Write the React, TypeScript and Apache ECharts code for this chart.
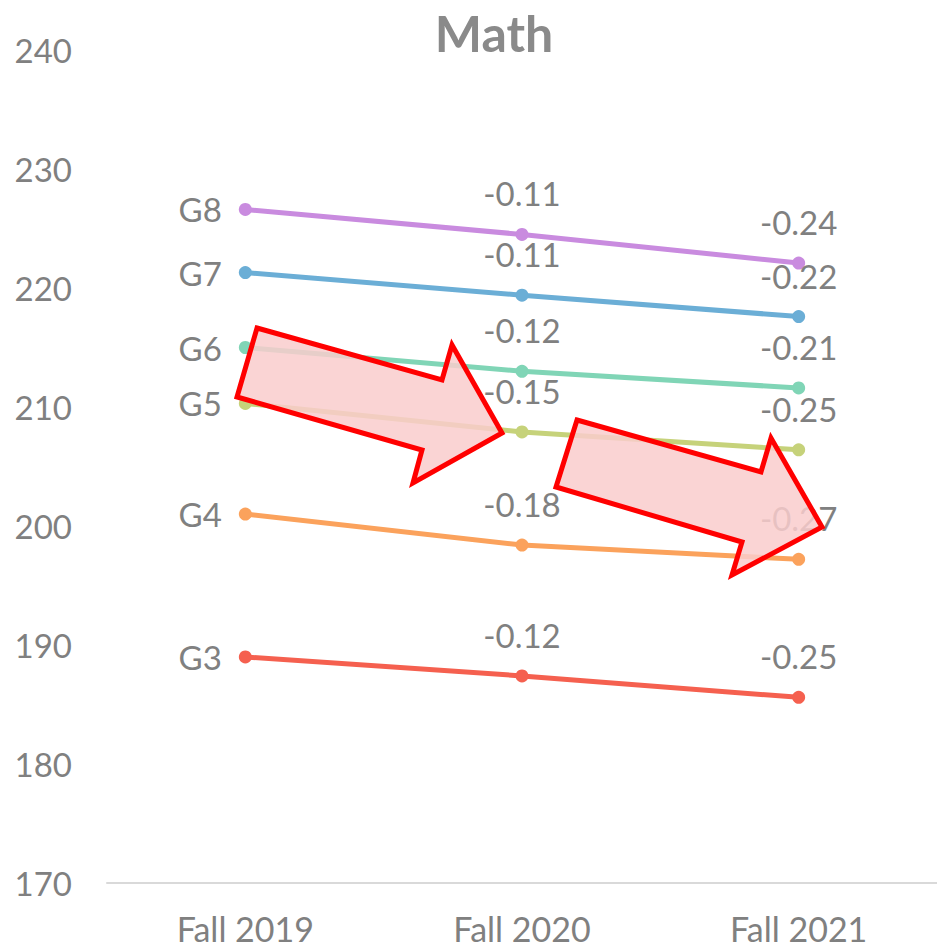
import React, { useEffect, useRef } from "react";
import * as echarts from "echarts";

const categories = ["Fall 2019", "Fall 2020", "Fall 2021"];
const gradeNames = ["G8", "G7", "G6", "G5", "G4", "G3"];
const g8Scores = [226.6, 224.5, 222.1];
const g7Scores = [221.3, 219.4, 217.6];
const g6Scores = [215.0, 213.0, 211.6];
const g5Scores = [210.3, 207.9, 206.4];
const g4Scores = [201.0, 198.4, 197.2];
const g3Scores = [189.0, 187.4, 185.6];
const g8Effects = [null, "-0.11", "-0.24"];
const g7Effects = [null, "-0.11", "-0.22"];
const g6Effects = [null, "-0.12", "-0.21"];
const g5Effects = [null, "-0.15", "-0.25"];
const g4Effects = [null, "-0.18", "-0.27"];
const g3Effects = [null, "-0.12", "-0.25"];
const yTicks = { min: 170, max: 240, interval: 10 };

const scores = [g8Scores, g7Scores, g6Scores, g5Scores, g4Scores, g3Scores];
const effects = [g8Effects, g7Effects, g6Effects, g5Effects, g4Effects, g3Effects];
const colors = ["#C98BDF", "#6BAED6", "#80D5B6", "#C6D27A", "#FBA25C", "#F5604F"];

const FONT = "Lato, 'Liberation Sans', sans-serif";
const GREY = "#808080";

export default function App() {
  const ref = useRef<HTMLDivElement>(null);
  useEffect(() => {
    if (!ref.current) return;
    const chart = echarts.init(ref.current, null, { renderer: "svg" });
    const series = gradeNames.map((name, i) => ({
      name,
      type: "line",
      data: scores[i].map((v, j) => ({
        value: v,
        label:
          j === 0
            ? { show: true, position: "left", distance: 17, formatter: name }
            : { show: true, position: "top", distance: 18, formatter: effects[i][j] as string },
      })),
      symbol: "circle",
      symbolSize: 13,
      lineStyle: { width: 5, color: colors[i] },
      itemStyle: { color: colors[i] },
      label: { fontFamily: FONT, fontSize: 33, color: GREY },
      z: 2,
    }));
    const arrowStyle = {
      fill: "rgba(249, 205, 205, 0.85)",
      stroke: "#FF0000",
      lineWidth: 5,
      lineJoin: "miter",
    };
    chart.setOption({
      animation: false,
      backgroundColor: "#FFFFFF",
      title: {
        text: "Math",
        left: 489,
        textAlign: "center",
        top: 3,
        textStyle: { fontFamily: FONT, fontSize: 50, fontWeight: "bold", color: "#8A8A8A" },
      },
      grid: { left: 107, right: -3, top: 50, bottom: 66, containLabel: false },
      xAxis: {
        type: "category",
        data: categories,
        boundaryGap: true,
        axisLine: { show: true, lineStyle: { color: "#D9D9D9", width: 2 } },
        axisTick: { show: false },
        axisLabel: { fontFamily: FONT, fontSize: 34, color: GREY, margin: 28 },
      },
      yAxis: {
        type: "value",
        min: yTicks.min,
        max: yTicks.max,
        interval: yTicks.interval,
        axisLine: { show: false },
        axisTick: { show: false },
        splitLine: { show: false },
        axisLabel: { fontFamily: FONT, fontSize: 33, color: GREY, margin: 35 },
      },
      series,
      graphic: [
        {
          type: "polygon",
          z: 100,
          shape: {
            points: [
              [257, 328],
              [442, 380],
              [452, 345],
              [502, 433],
              [413, 483],
              [422, 450],
              [237, 397],
            ],
          },
          style: arrowStyle,
        },
        {
          type: "polygon",
          z: 100,
          shape: {
            points: [
              [577, 420],
              [761, 472],
              [771, 438],
              [822, 527],
              [732, 575],
              [742, 542],
              [556, 487],
            ],
          },
          style: arrowStyle,
        },
      ],
    });
    return () => chart.dispose();
  }, []);
  return (
    <div
      ref={ref}
      style={{ position: "fixed", left: 0, top: 0, width: 937, height: 949, background: "#fff" }}
    />
  );
}
